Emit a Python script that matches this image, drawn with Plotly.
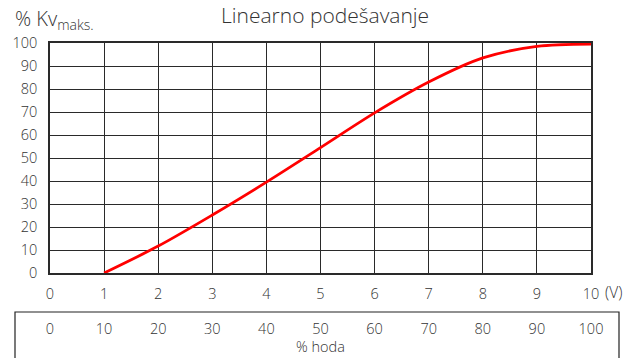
import plotly.graph_objects as go

# Stroke in volts and the matching flow coefficient (% of Kv max)
signal_v = [1, 2, 3, 4, 5, 6, 7, 8, 9, 10]
kv_pct = [0, 11.7, 25.2, 39.5, 54.5, 69.6, 83.0, 93.5, 98.5, 99.5]

volt_ticks = list(range(0, 11))
kv_ticks = list(range(0, 101, 10))
stroke_ticks = list(range(0, 101, 10))

W, H = 634, 358
L, T = 50, 43
plot_bottom_px = 273
paper_h = H - T
y_dom_low = (H - plot_bottom_px) / paper_h

txt = "#333333"
grid = "#2a2a2a"
font_family = "Open Sans, Lato, sans-serif"

fig = go.Figure()
fig.add_trace(go.Scatter(
    x=signal_v, y=kv_pct, mode="lines",
    line=dict(color="#ff0000", width=2.8, shape="spline", smoothing=0.9),
    showlegend=False, hoverinfo="skip",
))
# invisible trace so the stroke axis gets drawn
fig.add_trace(go.Scatter(x=[0, 100], y=[None, None], xaxis="x2",
                         showlegend=False, hoverinfo="skip"))

fig.update_layout(
    width=W, height=H,
    margin=dict(l=L, r=43, t=T, b=0, autoexpand=False),
    paper_bgcolor="white", plot_bgcolor="white",
    font=dict(family=font_family, color=txt, size=14, weight=300),
    xaxis=dict(
        range=[0, 10], tickvals=volt_ticks,
        ticktext=[str(v) for v in volt_ticks],
        showgrid=True, gridcolor=grid, gridwidth=1,
        showline=True, linecolor=grid, linewidth=1.5, mirror=True,
        zeroline=False, ticks="", ticklabelstandoff=7, automargin=False,
        tickfont=dict(size=14.5, color=txt, weight=300),
    ),
    yaxis=dict(
        range=[0, 100], tickvals=kv_ticks, domain=[y_dom_low, 1],
        showgrid=True, gridcolor=grid, gridwidth=1,
        showline=True, linecolor=grid, linewidth=1.5, mirror=True,
        zeroline=False, ticks="", ticklabelstandoff=8, automargin=False,
        tickfont=dict(size=14.5, color=txt, weight=300),
    ),
    xaxis2=dict(
        range=[0, 100], tickvals=stroke_ticks, overlaying="x",
        anchor="free", position=(H - 312) / paper_h, side="bottom",
        showgrid=False, showline=False, zeroline=False, ticks="",
        ticklabelstandoff=6, automargin=False,
        tickfont=dict(size=14.5, color=txt, weight=300),
        title=dict(text="% hoda", font=dict(size=14.5, color=txt, weight=300),
                   standoff=2),
    ),
    shapes=[dict(
        type="rect", xref="paper", yref="paper",
        x0=(15 - L) / 541, x1=(619 - L) / 541,
        y0=-0.6, y1=(H - 312) / paper_h,
        line=dict(color="#222222", width=1.2), fillcolor="rgba(0,0,0,0)",
        layer="below",
    )],
    annotations=[
        dict(text="Linearno podešavanje", xref="paper", yref="paper",
             x=(325 - L) / 541, y=1, yshift=T - 15,
             xanchor="center", yanchor="middle", showarrow=False,
             font=dict(size=21, color=txt, weight=300)),
        dict(text="% Kv<sub>maks.</sub>", xref="paper", yref="paper",
             x=(13 - L) / 541, y=1, yshift=T - 19,
             xanchor="left", yanchor="middle", showarrow=False,
             font=dict(size=20, color=txt, weight=300)),
        dict(text="(V)", xref="paper", yref="paper",
             x=(603 - L) / 541, y=y_dom_low, yshift=-19,
             xanchor="left", yanchor="middle", showarrow=False,
             font=dict(size=15.5, color=txt, weight=300)),
    ],
)

fig.write_html("out.html")
